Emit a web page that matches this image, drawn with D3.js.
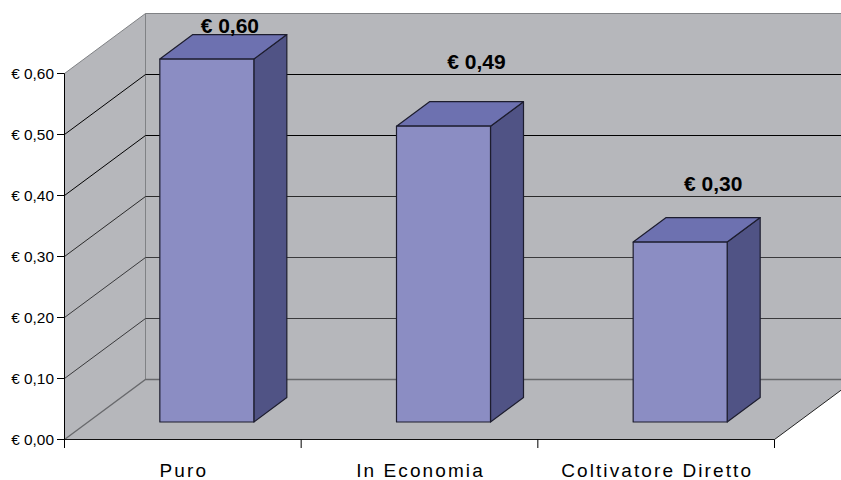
<!DOCTYPE html>
<html><head><meta charset="utf-8">
<script src="https://cdn.jsdelivr.net/npm/d3@7"></script>
<style>html,body{margin:0;padding:0;background:#fff}svg{display:block}text{font-family:"Liberation Sans",Arial,sans-serif;fill:#000}</style>
</head><body><svg id="c" width="841" height="480"></svg>
<script>
const categories = ["Puro", "In Economia", "Coltivatore Diretto"];
const values = [0.595, 0.485, 0.295];
const valueLabels = ["€ 0,60", "€ 0,49", "€ 0,30"];
const ticks = [0, 0.1, 0.2, 0.3, 0.4, 0.5, 0.6];
const tickLabels = ["€ 0,00", "€ 0,10", "€ 0,20", "€ 0,30", "€ 0,40", "€ 0,50", "€ 0,60"];

const svg = d3.select("#c");
const depth = {x: 81, y: -60};
const barDepth = {x: 33, y: -24.5};
const y = d3.scaleLinear().domain([0, 0.6]).range([439.5, 73.5]);
const x = d3.scaleBand().domain(categories).range([64.5, 774.5]);
const pts = a => a.map(p => p.join(",")).join(" ");
const wall = "#b6b7bb";
const labelLayout = [{dx: 70, dy: -26}, {dx: 80, dy: -57}, {dx: 80, dy: -51}];

const fx0 = 64.5, fx1 = 774.5, bx0 = fx0 + depth.x, bx1 = 841;
svg.append("polygon").attr("points", pts([[fx0, y(0)], [fx0, y(0.6)], [bx0, y(0.6) + depth.y], [bx0, y(0) + depth.y]])).attr("fill", wall);
svg.append("polygon").attr("points", pts([[bx0, y(0.6) + depth.y], [bx1, y(0.6) + depth.y], [bx1, y(0) + depth.y], [bx0, y(0) + depth.y]])).attr("fill", wall);
svg.append("polygon").attr("points", pts([[fx0, y(0)], [fx1, y(0)], [bx1, y(0) + (bx1 - fx1) * depth.y / depth.x], [bx1, y(0) + depth.y], [bx0, y(0) + depth.y]])).attr("fill", wall);

const grey = "#808285";
svg.append("path").attr("d", `M${fx0},${y(0.6)}L${bx0},${y(0.6) + depth.y}L${bx1},${y(0.6) + depth.y}M${bx0},${y(0.6) + depth.y}V${y(0) + depth.y}`).attr("fill", "none").attr("stroke", grey).attr("stroke-width", 1);

ticks.forEach(t => {
  if (t >= 0.6) return;
  const c = t === 0 ? "#68696c" : t <= 0.2 ? "#3a3a3c" : t === 0.3 ? "#2a2a2a" : "#000";
  svg.append("path").attr("d", `M${fx0},${y(t)}L${bx0},${y(t) + depth.y}L${bx1},${y(t) + depth.y}`)
    .attr("fill", "none").attr("stroke", c).attr("stroke-width", t === 0 ? 1.3 : 1);
});

const bars = svg.append("g");
categories.forEach((c, i) => {
  const w = 94;
  const l = x(c) + x.bandwidth() / 2 - 23.5 + 0.5, r = l + w;
  const b = 422;
  const t = b - (y(0) - y(values[i]));
  const dx = barDepth.x, dy = barDepth.y;
  const g = bars.append("g").attr("stroke", "#1d1d2e").attr("stroke-width", 1.2).attr("stroke-linejoin", "round");
  g.append("polygon").attr("points", pts([[r, t], [r + dx, t + dy], [r + dx, b + dy], [r, b]])).attr("fill", "#505385");
  g.append("polygon").attr("points", pts([[l, t], [l + dx, t + dy], [r + dx, t + dy], [r, t]])).attr("fill", "#6d71b0");
  g.append("rect").attr("x", l).attr("y", t).attr("width", w).attr("height", b - t).attr("fill", "#8b8dc3");
  svg.append("text").attr("x", l + labelLayout[i].dx).attr("y", t + labelLayout[i].dy).attr("text-anchor", "middle")
    .attr("font-size", 21).attr("font-weight", "bold").text(valueLabels[i]);
});

svg.append("path").attr("d", `M${fx0},${y(0.6)}V${y(0) + 8.5}`).attr("stroke", "#000").attr("fill", "none");
svg.append("path").attr("d", `M${fx0},${y(0)}H${fx1}`).attr("stroke", "#111").attr("fill", "none").attr("stroke-width", 1.2);
svg.append("path").attr("d", `M${fx1},${y(0)}L${bx1},${y(0) + (bx1 - fx1) * depth.y / depth.x}`).attr("stroke", "#222").attr("fill", "none");
ticks.forEach((t, i) => {
  svg.append("path").attr("d", `M${fx0 - 7.5},${y(t)}H${fx0}`).attr("stroke", "#000");
  svg.append("text").attr("x", 54).attr("y", y(t) + 5).attr("text-anchor", "end").attr("font-size", 15.4).text(tickLabels[i]);
});
x.domain().concat([null]).forEach(c => {
  const px = c === null ? fx1 : x(c);
  svg.append("path").attr("d", `M${px},${y(0)}v8.5`).attr("stroke", "#000");
});
categories.forEach(c => {
  svg.append("text").attr("x", x(c) + x.bandwidth() / 2 + 1).attr("y", 477).attr("text-anchor", "middle")
    .attr("font-size", 19).attr("letter-spacing", "2.1").text(c);
});
</script></body></html>
